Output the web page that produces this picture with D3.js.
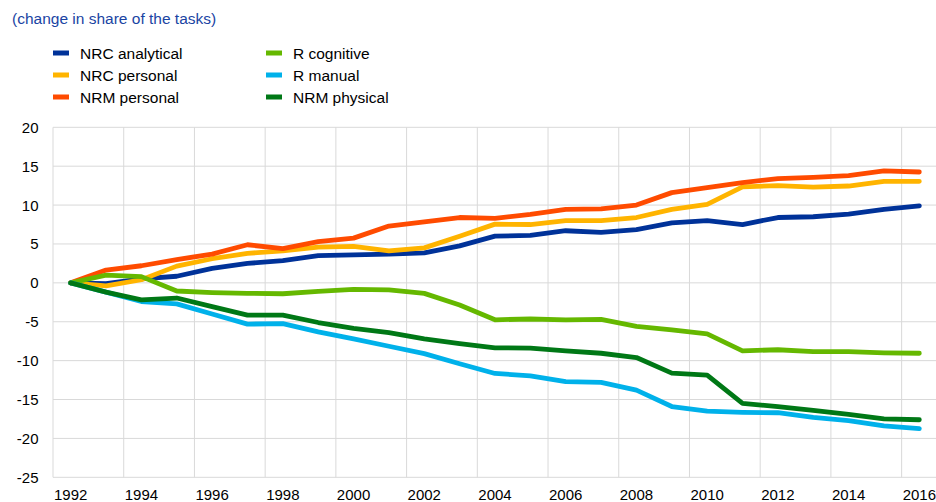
<!DOCTYPE html>
<html>
<head>
<meta charset="utf-8">
<script src="https://cdn.jsdelivr.net/npm/d3@7"></script>
<style>
  body { margin: 0; background: #fff; }
  svg { font-family: Arial, "Liberation Sans", sans-serif; }
</style>
</head>
<body>
<div id="chart"></div>
<script>
const years = d3.range(1992, 2017);
const seriesNames = ["NRC analytical", "NRC personal", "NRM personal", "R cognitive", "R manual", "NRM physical"];
const seriesColors = ["#003299", "#ffb400", "#ff4b00", "#65b800", "#00b1ea", "#007816"];

const nrcAnalytical = [0, -0.1, 0.5, 0.85, 1.85, 2.5, 2.85, 3.5, 3.6, 3.7, 3.85, 4.75, 6.0, 6.1, 6.7, 6.5, 6.85, 7.7, 8.0, 7.5, 8.4, 8.5, 8.85, 9.45, 9.9];
const nrcPersonal = [0, -0.4, 0.4, 2.15, 3.1, 3.8, 4.1, 4.6, 4.7, 4.1, 4.5, 6.0, 7.55, 7.5, 8.0, 8.0, 8.4, 9.45, 10.1, 12.35, 12.5, 12.3, 12.45, 13.05, 13.05];
const nrmPersonal = [0, 1.65, 2.2, 3.0, 3.7, 4.9, 4.4, 5.3, 5.75, 7.3, 7.85, 8.4, 8.3, 8.8, 9.45, 9.5, 10.0, 11.6, 12.25, 12.9, 13.4, 13.55, 13.8, 14.4, 14.25];
const rCognitive = [0, 1.0, 0.8, -1.05, -1.25, -1.35, -1.4, -1.1, -0.85, -0.9, -1.35, -2.85, -4.75, -4.65, -4.75, -4.7, -5.6, -6.05, -6.55, -8.75, -8.6, -8.85, -8.85, -9.0, -9.05];
const rManual = [0, -1.2, -2.4, -2.7, -4.0, -5.3, -5.25, -6.3, -7.2, -8.15, -9.1, -10.4, -11.65, -11.95, -12.7, -12.8, -13.8, -15.9, -16.5, -16.65, -16.7, -17.3, -17.7, -18.4, -18.75];
const nrmPhysical = [0, -1.2, -2.2, -1.95, -3.05, -4.15, -4.15, -5.1, -5.85, -6.4, -7.2, -7.8, -8.35, -8.4, -8.75, -9.05, -9.6, -11.6, -11.85, -15.5, -15.9, -16.4, -16.9, -17.5, -17.6];
const allSeries = [nrcAnalytical, nrcPersonal, nrmPersonal, rCognitive, rManual, nrmPhysical];

const yTicks = [20, 15, 10, 5, 0, -5, -10, -15, -20, -25];
const xTickYears = years.filter(y => y % 2 === 0);

const width = 936, height = 502;
const plot = { left: 53, right: 937, top: 127.3, bottom: 477.3 };

const svg = d3.select("#chart").append("svg")
  .attr("width", width)
  .attr("height", height);

const x = d3.scaleBand().domain(years).range([plot.left, plot.right]).paddingInner(0).paddingOuter(0);
const y = d3.scaleLinear().domain([-25, 20]).range([plot.bottom, plot.top]);
const cx = yr => x(yr) + x.bandwidth() / 2;

// title
svg.append("text")
  .attr("x", 12).attr("y", 24)
  .attr("fill", "#1a44a3")
  .style("font-size", "15.5px")
  .text("(change in share of the tasks)");

// legend
const legend = svg.append("g");
seriesNames.forEach((name, i) => {
  const col = Math.floor(i / 3), row = i % 3;
  const lx = 53 + col * 213, ly = 53 + row * 22;
  legend.append("rect")
    .attr("x", lx).attr("y", ly - 2.5)
    .attr("width", 16).attr("height", 5)
    .attr("fill", seriesColors[i]);
  legend.append("text")
    .attr("x", lx + 27).attr("y", ly + 5.5)
    .attr("fill", "#000")
    .style("font-size", "15.5px")
    .text(name);
});

// grid
const grid = svg.append("g").attr("stroke", "#d9d9d9").attr("stroke-width", 1);
grid.selectAll("line.h").data(yTicks).join("line")
  .attr("class", "h")
  .attr("x1", plot.left).attr("x2", plot.right)
  .attr("y1", d => y(d)).attr("y2", d => y(d));
grid.selectAll("line.v").data(xTickYears).join("line")
  .attr("class", "v")
  .attr("x1", d => x(d)).attr("x2", d => x(d))
  .attr("y1", plot.top).attr("y2", plot.bottom);

// y axis labels
svg.append("g").selectAll("text").data(yTicks).join("text")
  .attr("x", 38.5).attr("y", d => y(d) + 5.5)
  .attr("text-anchor", "end")
  .style("font-size", "15px")
  .text(d => d);

// x axis labels
svg.append("g").selectAll("text").data(xTickYears).join("text")
  .attr("x", d => cx(d)).attr("y", 500)
  .attr("text-anchor", "middle")
  .style("font-size", "15px")
  .text(d => d);

// lines
const line = d3.line()
  .x((d, i) => cx(years[i]))
  .y(d => y(d));

svg.append("g").selectAll("path").data(allSeries).join("path")
  .attr("d", line)
  .attr("fill", "none")
  .attr("stroke", (d, i) => seriesColors[i])
  .attr("stroke-width", 4.8)
  .attr("stroke-linejoin", "round")
  .attr("stroke-linecap", "round");
</script>
</body>
</html>
